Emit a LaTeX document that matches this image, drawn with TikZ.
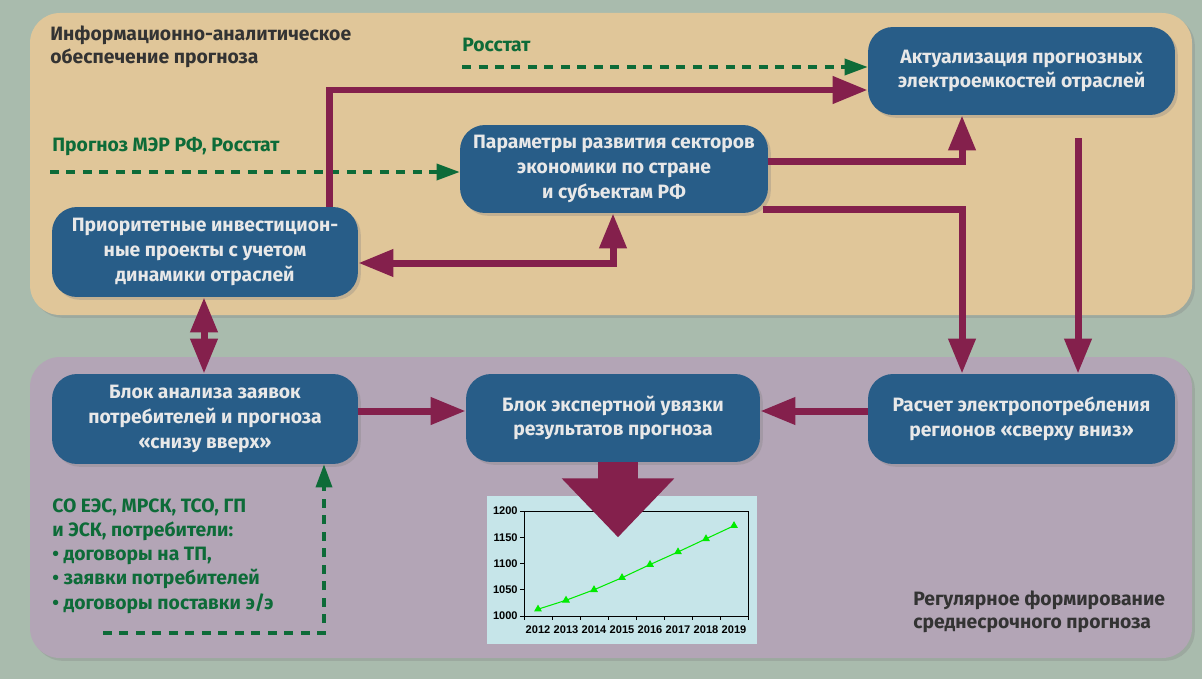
\documentclass[tikz,border=0pt]{standalone}
\usepackage{fontspec}
\setmainfont{Fira Sans}
\newfontfamily\chartfont{Liberation Sans}
\usepackage{tikz}
\usetikzlibrary{arrows.meta,calc,shadows,plotmarks}
\definecolor{EnBack}{RGB}{169,187,173}
\definecolor{EnTan}{RGB}{224,198,153}
\definecolor{EnMauve}{RGB}{179,165,182}
\definecolor{EnBlue}{RGB}{40,93,136}
\definecolor{EnText}{RGB}{232,232,232}
\definecolor{EnMaroon}{RGB}{132,32,76}
\definecolor{EnGreen}{RGB}{13,107,56}
\definecolor{EnDark}{RGB}{51,51,51}
\definecolor{ChartBg}{RGB}{198,229,233}
\definecolor{ChartLine}{RGB}{0,235,0}

\begin{document}
\begin{tikzpicture}[
  x=0.02cm,y=-0.02cm,
  shade/.style={drop shadow={shadow xshift=1.6pt,shadow yshift=-1.6pt,opacity=0.3}},
  panel/.style={rounded corners=0.6cm,shade},
  blk/.style={
    rounded corners=0.5cm,fill=EnBlue,text=EnText,shade,
    align=center,inner sep=0pt,
    font=\bfseries\fontsize{11}{14}\selectfont
  },
  title/.style={text=EnDark,align=left,inner sep=0pt,font=\bfseries\fontsize{11}{13.4}\selectfont},
  src/.style={text=EnGreen,align=left,inner sep=0pt,font=\bfseries\fontsize{11}{13.8}\selectfont},
  marr/.style={line width=0.14cm,EnMaroon,>={Triangle[length=0.7cm,width=0.52cm]},->},
  bigarr/.style={line width=0.8cm,EnMaroon,-{Triangle[length=1.18cm,width=2.18cm]}},
  garr/.style={line width=0.07cm,EnGreen,dash pattern=on 0.18cm off 0.15cm,
    -{Triangle[length=0.46cm,width=0.32cm]}},
  axlbl/.style={inner sep=0pt,font=\chartfont\bfseries\fontsize{6.3}{7}\selectfont}
]
  \useasboundingbox (0,0) rectangle (1202,679);
  \fill[EnBack] (0,0) rectangle (1202,679);

  \path[panel,fill=EnTan] (30,13) rectangle (1192,315);
  \path[panel,fill=EnMauve] (30,357) rectangle (1192,658);

  \node[title,anchor=north west] (toptitle) at (50,25)
    {Информационно-аналитическое\\обеспечение прогноза};
  \node[title,anchor=west] (bottitle) at (913,612)
    {Регулярное формирование\\среднесрочного прогноза};

  \node[blk,minimum width=6.14cm,minimum height=1.76cm] (akt) at (1021.5,71)
    {Актуализация прогнозных\\электроемкостей отраслей};
  \node[blk,minimum width=6.16cm,minimum height=1.76cm] (par) at (614,169)
    {Параметры развития секторов\\экономики по стране\\и субъектам РФ};
  \node[blk,minimum width=6.12cm,minimum height=1.8cm] (pri) at (205,252)
    {Приоритетные инвестицион-\\ные проекты с учетом\\динамики отраслей};
  \node[blk,minimum width=6.12cm,minimum height=1.8cm] (ana) at (205,419)
    {Блок анализа заявок\\потребителей и прогноза\\«снизу вверх»};
  \node[blk,minimum width=5.88cm,minimum height=1.76cm] (exp) at (613,418)
    {Блок экспертной увязки\\результатов прогноза};
  \node[blk,minimum width=6.14cm,minimum height=1.8cm] (ras) at (1021.5,419)
    {Расчет электропотребления\\регионов «сверху вниз»};

  \node[src,anchor=west] (rosstat) at (462,45) {Росстат};
  \node[src,anchor=west] (merrf) at (52,147) {Прогноз МЭР РФ, Росстат};
  \node[src,anchor=west] (soees) at (52,556)
    {СО ЕЭС, МРСК, ТСО, ГП\\и ЭСК, потребители:\\• договоры на ТП,\\• заявки потребителей\\• договоры поставки э/э};
  \coordinate (rosstatsrc) at (462,67);
  \coordinate (merrfsrc) at (50,172);
  \coordinate (soeessrc) at (103,633);

  \draw[garr] (rosstatsrc) -- ($(akt.west)+(0,-4)$);
  \draw[garr] (merrfsrc) -- ($(par.west)+(0,3)$);
  \draw[garr] (soeessrc) -| ($(ana.south)+(119,0)$);

  \draw[marr] ($(pri.north)+(124,0)$) |- ($(akt.west)+(0,19)$);
  \draw[marr] ($(par.east)+(0,-8)$) -| ($(akt.south)+(-59.5,0)$);
  \draw[marr] ($(par.south east)+(-5,-4)$) -| ($(ras.north)+(-59.5,0)$);
  \draw[marr] ($(akt.south)+(56.5,23)$) -- ($(ras.north)+(56.5,0)$);
  \draw[marr,<->] ($(pri.east)+(0,11)$) -| ($(par.south)+(-1,0)$);
  \draw[marr,<->] ($(pri.south)+(-1,0)$) -- ($(ana.north)+(-1,0)$);
  \draw[marr] ($(ana.east)+(0,-8)$) -- ($(exp.west)+(0,-7)$);
  \draw[marr] ($(ras.west)+(0,-8)$) -- ($(exp.east)+(0,-7)$);

  \node[fill=ChartBg,minimum width=5.4cm,minimum height=2.96cm,inner sep=0pt] (chart) at (622,570) {};
  \draw[line width=0.5pt] (524,511) rectangle (748,616);
  \foreach \v [count=\i from 0] in {1000,1050,1100,1150,1200} {
    \draw[line width=0.5pt] (520,616-26.25*\i) -- (524,616-26.25*\i);
    \node[axlbl,anchor=east] at (518,616-26.25*\i) {\v};
  }
  \foreach \k in {0,...,8}
    \draw[line width=0.5pt] (524+28*\k,616) -- (524+28*\k,620);
  \foreach \yr [count=\k from 0] in {2012,...,2019}
    \node[axlbl] at (538+28*\k,630) {\yr};
  \draw[ChartLine,line width=0.6pt] plot[mark=triangle*,mark size=2pt]
    coordinates {(538,609.2) (566,600.25) (594,589.75) (622,577.7)
      (650,564.55) (678,551.95) (706,538.8) (734,525.7)};

  \draw[bigarr] ($(exp.south)+(5,0)$) -- ++(0,75);
\end{tikzpicture}
\end{document}
